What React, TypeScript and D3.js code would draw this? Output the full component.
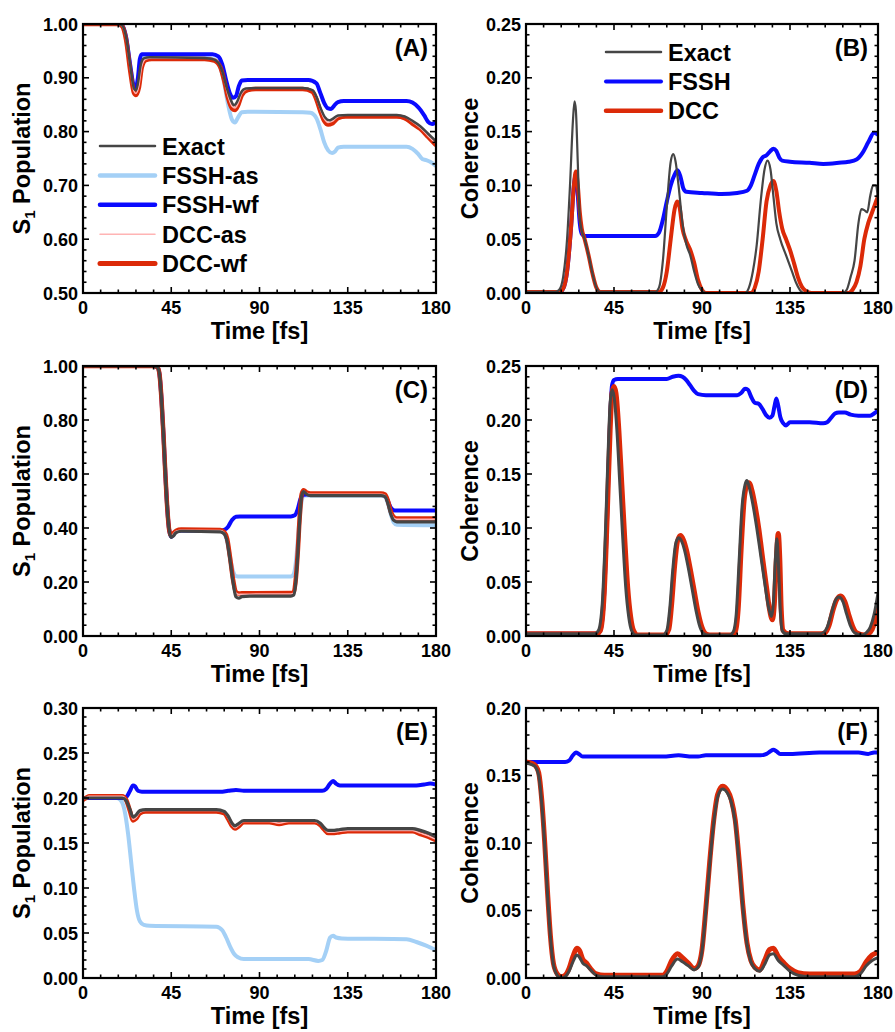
import React from 'react';
import * as d3 from 'd3';

type Pt = [number, number];

// ---- axis ticks ----
const timeTicks = [0, 45, 90, 135, 180];
const popTicksA = [0.5, 0.6, 0.7, 0.8, 0.9, 1.0];
const popTicksC = [0.0, 0.2, 0.4, 0.6, 0.8, 1.0];
const popTicksE = [0.0, 0.05, 0.1, 0.15, 0.2, 0.25, 0.3];
const cohTicksBD = [0.0, 0.05, 0.1, 0.15, 0.2, 0.25];
const cohTicksF = [0.0, 0.05, 0.1, 0.15, 0.2];

// ---- legends ----
const legendPop = ['Exact', 'FSSH-as', 'FSSH-wf', 'DCC-as', 'DCC-wf'];
const legendCoh = ['Exact', 'FSSH', 'DCC'];

// ---- panel A : S1 population ----
const exactA: Pt[] = [[0,1],[18,1],[20,0.997],[22,0.975],[24,0.925],[26,0.88],[27,0.877],[28,0.89],[29.5,0.925],[31,0.936],[34,0.938],[60,0.937],[66,0.935],[69,0.928],[71,0.912],[73,0.885],[75.5,0.858],[77,0.849],[78.5,0.855],[80.5,0.872],[83,0.88],[90,0.881],[112,0.881],[117,0.877],[119,0.865],[121,0.845],[123.5,0.826],[125.5,0.821],[127,0.823],[130,0.83],[135,0.831],[160,0.831],[164,0.828],[168,0.82],[172,0.81],[176,0.796],[180,0.782]];
const fsshAsA: Pt[] = [[0,1],[18,1],[20,0.997],[22,0.975],[24,0.925],[26,0.882],[27,0.879],[28,0.892],[29.5,0.926],[31,0.937],[34,0.938],[62,0.937],[67,0.934],[70,0.92],[72,0.89],[74,0.85],[76,0.822],[77.5,0.817],[79,0.826],[81,0.836],[84,0.837],[112,0.836],[116,0.835],[119,0.825],[121,0.805],[123,0.78],[125,0.765],[127,0.76],[128.5,0.763],[130,0.77],[133,0.772],[165,0.772],[168,0.768],[171,0.758],[173,0.749],[175,0.747],[177,0.744],[180,0.736]];
const fsshWfA: Pt[] = [[0,1],[18,1],[20,0.997],[22,0.975],[24,0.925],[26,0.885],[27,0.883],[28,0.9],[29,0.935],[30,0.944],[32,0.944],[66,0.944],[69,0.94],[71,0.925],[73,0.895],[75,0.87],[76.5,0.863],[78,0.866],[79.5,0.885],[81,0.895],[84,0.896],[115,0.896],[119,0.89],[121,0.872],[123,0.853],[125,0.843],[126.5,0.842],[128,0.848],[130,0.855],[133,0.857],[165,0.857],[168,0.854],[171,0.845],[174,0.83],[176,0.818],[178,0.814],[180,0.818]];
const dccAsA: Pt[] = [[0,1],[18,1],[20,0.996],[22,0.972],[24,0.92],[26,0.875],[27,0.871],[28.5,0.885],[30,0.922],[32,0.935],[35,0.937],[62,0.937],[67,0.934],[70,0.922],[72,0.897],[74,0.866],[76,0.847],[77.5,0.844],[79,0.852],[81,0.871],[84,0.88],[88,0.882],[112,0.882],[117,0.877],[119,0.863],[121,0.842],[123,0.824],[125,0.817],[127,0.819],[130,0.828],[134,0.831],[160,0.831],[164,0.828],[168,0.818],[172,0.807],[176,0.792],[180,0.778]];
const dccWfA: Pt[] = [[0,1],[18,1],[20,0.996],[22,0.97],[24,0.915],[26,0.872],[27,0.868],[28.5,0.882],[30,0.92],[32,0.933],[35,0.935],[62,0.935],[67,0.932],[70,0.92],[72,0.895],[74,0.862],[76,0.843],[77.5,0.84],[79,0.848],[81,0.868],[84,0.877],[88,0.879],[112,0.879],[117,0.874],[119,0.86],[121,0.838],[123,0.82],[125,0.813],[127,0.815],[130,0.825],[134,0.828],[160,0.828],[164,0.825],[168,0.815],[172,0.805],[176,0.79],[180,0.775]];

// ---- panel B : coherence ----
const exactB: Pt[] = [[0,0.001],[15,0.001],[17,0.003],[19,0.015],[21,0.05],[22.5,0.1],[24,0.16],[24.8,0.178],[25.5,0.17],[26.5,0.12],[27.5,0.07],[28.5,0.058],[30,0.05],[32,0.035],[34,0.018],[36,0.005],[38,0.001],[66,0.001],[68,0.005],[70,0.03],[72,0.08],[74,0.122],[75.3,0.129],[76.5,0.122],[78,0.1],[80,0.065],[82,0.045],[84,0.035],[86,0.02],[88,0.008],[90,0.002],[92,0],[112,0],[114,0.005],[116,0.02],[118,0.045],[120,0.085],[122,0.115],[123.5,0.123],[125,0.115],[126.5,0.09],[128,0.065],[130,0.05],[133,0.035],[136,0.02],[138,0.01],[140,0.003],[142,0],[162,0],[164,0.003],[166,0.015],[168,0.03],[170,0.065],[171.5,0.078],[173,0.077],[174.5,0.075],[176,0.09],[177.5,0.1],[179,0.1],[180,0.085]];
const fsshB: Pt[] = [[0,0.001],[17,0.001],[19,0.004],[21,0.02],[23,0.06],[24.5,0.1],[25.5,0.11],[26.5,0.09],[27.5,0.065],[28.5,0.055],[30,0.053],[66,0.053],[68,0.056],[70,0.068],[72,0.085],[74,0.1],[76,0.11],[77.5,0.114],[79,0.108],[80.5,0.097],[82,0.094],[90,0.093],[100,0.092],[108,0.093],[113,0.095],[115,0.1],[117,0.11],[119,0.12],[121,0.126],[123,0.128],[125,0.132],[126.5,0.134],[128,0.132],[129.5,0.126],[131,0.123],[135,0.122],[145,0.121],[152,0.12],[160,0.121],[165,0.122],[169,0.124],[172,0.13],[175,0.14],[178,0.149],[180,0.147]];
const dccB: Pt[] = [[0,0.001],[17,0.001],[19,0.004],[21,0.02],[23,0.06],[24.5,0.1],[25.5,0.113],[26.5,0.1],[27.5,0.075],[28.5,0.06],[30,0.05],[32,0.035],[34,0.018],[36,0.005],[38,0.001],[68,0.001],[70,0.005],[72,0.02],[74,0.05],[76,0.078],[77.3,0.085],[78.5,0.08],[80,0.06],[82,0.048],[84,0.04],[86,0.028],[88,0.012],[90,0.003],[92,0],[115,0],[117,0.005],[119,0.02],[121,0.05],[123,0.085],[125,0.1],[126.5,0.104],[128,0.095],[129.5,0.075],[131,0.06],[133,0.05],[135,0.04],[137,0.028],[139,0.015],[141,0.006],[143,0.002],[146,0],[165,0],[167,0.003],[169,0.01],[171,0.025],[173,0.05],[175,0.065],[177,0.075],[179,0.085],[180,0.09]];

// ---- panel C : S1 population ----
const exactC: Pt[] = [[0,1],[36,1],[38,0.995],[39,0.97],[40,0.88],[41,0.75],[42,0.6],[43,0.47],[44,0.39],[45,0.365],[46,0.37],[47.5,0.383],[50,0.388],[70,0.386],[72,0.378],[73.5,0.35],[75,0.28],[76.5,0.2],[78,0.145],[79.5,0.14],[81,0.146],[85,0.148],[106,0.148],[107.5,0.152],[108.5,0.2],[109.5,0.3],[110.5,0.43],[111.5,0.52],[112.5,0.535],[114,0.525],[116,0.52],[152,0.52],[154,0.516],[155.5,0.49],[157,0.45],[158.5,0.428],[160,0.423],[180,0.423]];
const fsshAsC: Pt[] = [[0,1],[36,1],[38,0.995],[39,0.97],[40,0.88],[41,0.75],[42,0.6],[43,0.47],[44,0.39],[45,0.368],[46,0.375],[47.5,0.387],[50,0.391],[70,0.39],[72,0.38],[73.5,0.35],[75,0.29],[76.5,0.24],[78,0.222],[80,0.22],[106,0.22],[107.5,0.23],[108.5,0.27],[109.5,0.35],[110.5,0.44],[111.5,0.5],[112.5,0.52],[114,0.52],[152,0.52],[154,0.515],[155.5,0.49],[157,0.45],[158.5,0.42],[160,0.412],[180,0.41]];
const fsshWfC: Pt[] = [[0,1],[36,1],[38,0.995],[39,0.97],[40,0.88],[41,0.75],[42,0.6],[43,0.47],[44,0.39],[45,0.368],[46,0.375],[47.5,0.387],[50,0.391],[70,0.39],[72,0.393],[74,0.405],[76,0.43],[78,0.442],[80,0.443],[106,0.443],[108,0.447],[109.5,0.47],[111,0.51],[112.5,0.523],[114,0.524],[152,0.524],[154,0.52],[155.5,0.5],[157,0.475],[159,0.465],[180,0.465]];
const dccAsC: Pt[] = [[0,1],[36,1],[38,0.995],[39,0.97],[40,0.88],[41,0.75],[42,0.6],[43,0.47],[44,0.39],[45,0.368],[46,0.378],[47.5,0.388],[50,0.392],[70,0.391],[72,0.383],[73.5,0.357],[75,0.287],[76.5,0.207],[78,0.159],[79.5,0.154],[81,0.155],[85,0.155],[106,0.156],[107.5,0.16],[108.5,0.207],[109.5,0.307],[110.5,0.437],[111.5,0.522],[112.5,0.537],[114,0.529],[116,0.525],[152,0.525],[154,0.521],[155.5,0.497],[157,0.457],[158.5,0.437],[160,0.432],[180,0.432]];
const dccWfC: Pt[] = [[0,1],[36,1],[38,0.995],[39,0.97],[40,0.88],[41,0.75],[42,0.6],[43,0.47],[44,0.39],[45,0.37],[46,0.38],[47.5,0.39],[50,0.394],[70,0.393],[72,0.385],[73.5,0.36],[75,0.29],[76.5,0.21],[78,0.162],[79.5,0.157],[81,0.158],[85,0.158],[106,0.159],[107.5,0.163],[108.5,0.21],[109.5,0.31],[110.5,0.44],[111.5,0.525],[112.5,0.54],[114,0.532],[116,0.528],[152,0.528],[154,0.524],[155.5,0.5],[157,0.46],[158.5,0.44],[160,0.435],[180,0.435]];

// ---- panel D : coherence ----
const exactD: Pt[] = [[0,0.002],[35,0.002],[37,0.005],[39,0.03],[40.5,0.09],[42,0.17],[43,0.215],[44,0.228],[45,0.222],[46.5,0.19],[48,0.14],[49.5,0.09],[51,0.045],[52.5,0.018],[54,0.005],[56,0.001],[70,0.001],[72,0.005],[73.5,0.025],[75,0.06],[76.5,0.085],[78,0.091],[79.5,0.088],[81,0.08],[83,0.063],[85,0.043],[87,0.023],[89,0.008],[91,0.002],[93,0.001],[104,0.001],[106,0.004],[107.5,0.02],[109,0.07],[110.5,0.12],[112,0.14],[113,0.144],[114.5,0.135],[116,0.122],[118,0.1],[120,0.075],[122,0.05],[124,0.027],[125.5,0.018],[126.5,0.03],[127.5,0.07],[128.3,0.09],[129,0.07],[130,0.025],[131,0.005],[133,0.002],[150,0.002],[152,0.003],[154,0.008],[156,0.02],[158,0.032],[160,0.036],[162,0.032],[164,0.02],[166,0.009],[168,0.003],[172,0.001],[174,0.003],[176,0.008],[178,0.02],[180,0.04]];
const fsshD: Pt[] = [[0,0.002],[36,0.002],[38,0.005],[40,0.04],[41.5,0.11],[43,0.2],[44,0.232],[45,0.237],[47,0.238],[72,0.238],[75,0.24],[78,0.241],[80,0.24],[82,0.237],[84,0.232],[86,0.227],[88,0.224],[92,0.223],[108,0.223],[110,0.225],[112,0.229],[113.5,0.228],[115,0.222],[117,0.216],[119,0.215],[121,0.21],[123,0.204],[124.5,0.202],[126,0.204],[127,0.212],[128,0.22],[129,0.213],[130,0.203],[131.5,0.197],[133,0.195],[135,0.198],[145,0.198],[152,0.197],[154,0.198],[156,0.202],[158,0.206],[160,0.207],[163,0.207],[166,0.205],[170,0.204],[176,0.204],[178,0.206],[180,0.209]];
const dccD: Pt[] = [[0,0.002],[36,0.002],[38,0.005],[40,0.04],[41.5,0.11],[43,0.19],[44,0.225],[45,0.231],[46,0.225],[47.5,0.19],[49,0.14],[50.5,0.09],[52,0.045],[53.5,0.018],[55,0.005],[57,0.001],[71,0.001],[73,0.006],[74.5,0.03],[76,0.065],[77.5,0.088],[79,0.093],[80.5,0.089],[82,0.08],[84,0.062],[86,0.042],[88,0.022],[90,0.008],[92,0.002],[94,0.001],[105,0.001],[107,0.004],[108.5,0.025],[110,0.08],[111.5,0.125],[113,0.14],[114,0.142],[115.5,0.135],[117,0.122],[119,0.1],[121,0.072],[123,0.045],[124.5,0.025],[126,0.015],[127,0.03],[128,0.07],[129,0.095],[129.8,0.07],[130.5,0.025],[131.5,0.005],[134,0.002],[151,0.002],[153,0.003],[155,0.01],[157,0.024],[159,0.034],[161,0.037],[163,0.032],[165,0.02],[167,0.009],[169,0.003],[173,0.001],[175,0.002],[177,0.006],[179,0.018],[180,0.03]];

// ---- panel E : S1 population ----
const exactE: Pt[] = [[0,0.2],[20,0.2],[22,0.197],[24,0.187],[25.5,0.179],[27,0.181],[29,0.186],[32,0.187],[68,0.187],[72,0.185],[74,0.18],[76,0.172],[77.5,0.169],[79,0.171],[82,0.175],[90,0.175],[118,0.175],[121,0.172],[123,0.167],[125,0.164],[127,0.164],[131,0.165],[135,0.166],[168,0.166],[172,0.164],[176,0.161],[180,0.157]];
const fsshAsE: Pt[] = [[0,0.2],[17,0.2],[19,0.198],[21,0.188],[23,0.16],[24.5,0.13],[26,0.1],[27.5,0.075],[29,0.063],[31,0.059],[34,0.058],[68,0.057],[71,0.053],[73,0.045],[75,0.035],[77,0.027],[79,0.023],[82,0.021],[115,0.021],[120,0.019],[122,0.02],[124,0.03],[126,0.045],[127.5,0.047],[129,0.045],[132,0.044],[165,0.043],[170,0.04],[175,0.036],[180,0.031]];
const fsshWfE: Pt[] = [[0,0.2],[20,0.2],[22,0.201],[24,0.208],[25.5,0.214],[26.5,0.213],[28,0.208],[30,0.207],[70,0.207],[74,0.208],[78,0.209],[82,0.208],[122,0.208],[124,0.21],[126,0.216],[127.5,0.219],[129,0.216],[131,0.214],[170,0.214],[174,0.215],[177,0.216],[180,0.215]];
const dccAsE: Pt[] = [[0,0.199],[1.5,0.2],[3,0.202],[20,0.202],[22,0.198],[24,0.186],[25.5,0.176],[27,0.178],[29,0.184],[32,0.186],[68,0.186],[72,0.184],[74,0.178],[76,0.17],[77.5,0.167],[79,0.169],[82,0.174],[95,0.174],[100,0.172],[105,0.174],[118,0.174],[121,0.171],[123,0.166],[125,0.162],[127,0.162],[131,0.163],[135,0.164],[168,0.164],[172,0.161],[176,0.158],[180,0.154]];
const dccWfE: Pt[] = [[0,0.198],[1.5,0.2],[3,0.202],[20,0.202],[22,0.198],[24,0.185],[25.5,0.175],[27,0.177],[29,0.183],[32,0.185],[68,0.185],[72,0.183],[74,0.177],[76,0.169],[77.5,0.166],[79,0.168],[82,0.173],[95,0.173],[100,0.171],[105,0.173],[118,0.173],[121,0.17],[123,0.165],[125,0.161],[127,0.161],[131,0.162],[135,0.163],[168,0.163],[172,0.16],[176,0.157],[180,0.153]];

// ---- panel F : coherence ----
const exactF: Pt[] = [[0,0.159],[3,0.158],[5,0.156],[6.5,0.15],[8,0.13],[9.5,0.1],[11,0.062],[12.5,0.03],[14,0.01],[16,0.002],[18,0],[20,0.001],[22,0.005],[24,0.012],[26,0.017],[27.5,0.015],[29,0.011],[31,0.009],[33,0.006],[36,0.002],[40,0.001],[70,0.001],[72,0.003],[74.5,0.009],[77.5,0.014],[80,0.012],[83,0.009],[86,0.006],[88,0.008],[90,0.02],[92,0.05],[94,0.085],[96,0.115],[98,0.134],[100.5,0.14],[103,0.137],[105,0.13],[107,0.115],[109,0.085],[111,0.05],[113,0.025],[115,0.012],[117,0.007],[119.5,0.005],[122,0.01],[124.5,0.017],[126.5,0.018],[129,0.013],[132,0.009],[135,0.005],[139,0.002],[145,0.001],[168,0.001],[171,0.003],[174,0.009],[177,0.013],[180,0.015]];
const fsshF: Pt[] = [[0,0.16],[20,0.16],[22,0.161],[24,0.165],[25.5,0.167],[27,0.166],[29,0.164],[50,0.164],[70,0.164],[78,0.165],[85,0.164],[88,0.164],[92,0.165],[120,0.165],[123,0.166],[125,0.168],[126.5,0.169],[128,0.168],[130,0.166],[135,0.166],[150,0.167],[170,0.167],[175,0.166],[178,0.167],[180,0.167]];
const dccF: Pt[] = [[0,0.16],[3,0.159],[5,0.157],[6.5,0.152],[8,0.133],[9.5,0.102],[11,0.064],[12.5,0.031],[14,0.011],[16,0.003],[18,0.001],[20,0.002],[22,0.007],[24,0.016],[26,0.022],[27.5,0.02],[29,0.014],[31,0.011],[33,0.007],[36,0.003],[40,0.002],[70,0.002],[72,0.005],[74.5,0.013],[77.5,0.018],[80,0.015],[83,0.011],[86,0.007],[88,0.009],[90,0.021],[92,0.052],[94,0.087],[96,0.117],[98,0.136],[100.5,0.142],[103,0.139],[105,0.132],[107,0.117],[109,0.087],[111,0.052],[113,0.026],[115,0.013],[117,0.008],[119.5,0.006],[122,0.013],[124.5,0.021],[126.5,0.022],[129,0.016],[132,0.011],[135,0.007],[139,0.004],[145,0.003],[168,0.003],[171,0.005],[174,0.012],[177,0.017],[180,0.019]];

const C = {
  exact: '#454545',
  fsshAs: '#a4d0f6',
  fsshWf: '#0a0aff',
  dccAs: '#ffb4b4',
  dccWf: '#dc2a08',
};

const FONT = '"Liberation Sans", Arial, Helvetica, sans-serif';

type Series = { data: Pt[]; color: string; width: number };
type LegendItem = { name: string; color: string; width: number };

type PanelProps = {
  id: string;
  x0: number; x1: number; y0: number; y1: number;
  yDomain: [number, number];
  yTicks: number[];
  yTitle: 'pop' | 'coh';
  titleOff: number;
  label: string;
  labelOff: number;
  series: Series[];
  legend?: { x: number; y: number; items: LegendItem[] };
};

function Panel(p: PanelProps) {
  const x = d3.scaleLinear().domain([0, 180]).range([p.x0, p.x1]);
  const y = d3.scaleLinear().domain(p.yDomain).range([p.y1, p.y0]);
  const line = d3.line<Pt>().x(d => x(d[0])).y(d => y(d[1])).curve(d3.curveMonotoneX);
  const fmt = d3.format('.2f');
  const xMinor = d3.range(0, 180.01, 9).filter(v => !timeTicks.includes(v));
  const ys = p.yTicks[1] - p.yTicks[0];
  const yMinor = d3.range(p.yDomain[0], p.yDomain[1] + 1e-9, ys / 5)
    .filter(v => !p.yTicks.some(t => Math.abs(t - v) < 1e-9));
  const maj = 6, mnr = 3.5;
  const cx = (p.x0 + p.x1) / 2, cy = (p.y0 + p.y1) / 2;
  const clipId = 'clip' + p.id;

  return (
    <g>
      <defs>
        <clipPath id={clipId}>
          <rect x={p.x0} y={p.y0} width={p.x1 - p.x0} height={p.y1 - p.y0} />
        </clipPath>
      </defs>
      <g clipPath={`url(#${clipId})`}>
        {p.series.map((s, i) => (
          <path key={i} d={line(s.data) || ''} fill="none" stroke={s.color}
            strokeWidth={s.width} strokeLinejoin="round" strokeLinecap="round" />
        ))}
      </g>
      {/* ticks */}
      <g stroke="#000" strokeWidth={1.6}>
        {timeTicks.map(t => (
          <g key={'xt' + t}>
            <line x1={x(t)} x2={x(t)} y1={p.y1} y2={p.y1 - maj} />
            <line x1={x(t)} x2={x(t)} y1={p.y0} y2={p.y0 + maj} />
          </g>
        ))}
        {xMinor.map(t => (
          <g key={'xm' + t}>
            <line x1={x(t)} x2={x(t)} y1={p.y1} y2={p.y1 - mnr} />
            <line x1={x(t)} x2={x(t)} y1={p.y0} y2={p.y0 + mnr} />
          </g>
        ))}
        {p.yTicks.map(t => (
          <g key={'yt' + t}>
            <line x1={p.x0} x2={p.x0 + maj} y1={y(t)} y2={y(t)} />
            <line x1={p.x1} x2={p.x1 - maj} y1={y(t)} y2={y(t)} />
          </g>
        ))}
        {yMinor.map((t, i) => (
          <g key={'ym' + i}>
            <line x1={p.x0} x2={p.x0 + mnr} y1={y(t)} y2={y(t)} />
            <line x1={p.x1} x2={p.x1 - mnr} y1={y(t)} y2={y(t)} />
          </g>
        ))}
      </g>
      <rect x={p.x0} y={p.y0} width={p.x1 - p.x0} height={p.y1 - p.y0}
        fill="none" stroke="#000" strokeWidth={2.2} />
      {/* tick labels */}
      <g fontFamily={FONT} fontWeight="bold" fontSize={18} fill="#000">
        {timeTicks.map(t => (
          <text key={'xl' + t} x={x(t)} y={p.y1 + 21} textAnchor="middle">{t}</text>
        ))}
        {p.yTicks.map(t => (
          <text key={'yl' + t} x={p.x0 - 5} y={y(t) + 6.5} textAnchor="end">{fmt(t)}</text>
        ))}
      </g>
      {/* titles */}
      <g fontFamily={FONT} fontWeight="bold" fontSize={23.5} fill="#000">
        <text x={cx} y={p.y1 + 46} textAnchor="middle">Time [fs]</text>
        <text transform={`translate(${p.x0 - p.titleOff},${cy}) rotate(-90)`} textAnchor="middle">
          {p.yTitle === 'pop' ? (
            <>
              <tspan>S</tspan>
              <tspan fontSize={15} dy={5}>1</tspan>
              <tspan dy={-5}> Population</tspan>
            </>
          ) : 'Coherence'}
        </text>
        <text x={p.x1 - p.labelOff} y={p.y0 + 32} textAnchor="end" fontSize={24}>{p.label}</text>
      </g>
      {p.legend && (
        <g fontFamily={FONT} fontWeight="bold" fontSize={23.5}>
          {p.legend.items.map((it, i) => {
            const ly = p.legend!.y + i * 29.4;
            return (
              <g key={it.name}>
                <line x1={p.legend!.x} x2={p.legend!.x + 55} y1={ly} y2={ly}
                  stroke={it.color} strokeWidth={it.width} strokeLinecap="round" />
                <text x={p.legend!.x + 62} y={ly + 8.5} fill="#000">{it.name}</text>
              </g>
            );
          })}
        </g>
      )}
    </g>
  );
}

const popSeries = (ex: Pt[], fa: Pt[], fw: Pt[], da: Pt[], dw: Pt[], ew: number): Series[] => [
  { data: fa, color: C.fsshAs, width: 4 },
  { data: fw, color: C.fsshWf, width: 4 },
  { data: dw, color: C.dccWf, width: 4.5 },
  { data: da, color: C.dccAs, width: 1.5 },
  { data: ex, color: C.exact, width: ew },
];
const cohSeries = (ex: Pt[], f: Pt[], d: Pt[], ew: number, dw: number): Series[] => [
  { data: f, color: C.fsshWf, width: 4 },
  { data: d, color: C.dccWf, width: dw },
  { data: ex, color: C.exact, width: ew },
];

export default function App() {
  const L = { x0: 83, x1: 436 };
  const R = { x0: 526, x1: 878 };
  const rows = [[24, 293], [366, 636], [708, 978]];
  const popLegend: LegendItem[] = [
    { name: legendPop[0], color: C.exact, width: 2.5 },
    { name: legendPop[1], color: C.fsshAs, width: 4.5 },
    { name: legendPop[2], color: C.fsshWf, width: 4.5 },
    { name: legendPop[3], color: C.dccAs, width: 1.5 },
    { name: legendPop[4], color: C.dccWf, width: 5 },
  ];
  const cohLegend: LegendItem[] = [
    { name: legendCoh[0], color: C.exact, width: 2.5 },
    { name: legendCoh[1], color: C.fsshWf, width: 4 },
    { name: legendCoh[2], color: C.dccWf, width: 4.5 },
  ];
  return (
    <svg width={895} height={1032} style={{ position: 'absolute', left: 0, top: 0, background: '#fff' }}>
      <Panel id="A" {...L} y0={rows[0][0]} y1={rows[0][1]} yDomain={[0.5, 1.0]} yTicks={popTicksA}
        yTitle="pop" titleOff={53} label="(A)" labelOff={8}
        series={popSeries(exactA, fsshAsA, fsshWfA, dccAsA, dccWfA, 2.5)}
        legend={{ x: 100, y: 146, items: popLegend }} />
      <Panel id="B" {...R} y0={rows[0][0]} y1={rows[0][1]} yDomain={[0, 0.25]} yTicks={cohTicksBD}
        yTitle="coh" titleOff={48} label="(B)" labelOff={10}
        series={cohSeries(exactB, fsshB, dccB, 2.2, 4)}
        legend={{ x: 606, y: 52, items: cohLegend }} />
      <Panel id="C" {...L} y0={rows[1][0]} y1={rows[1][1]} yDomain={[0, 1.0]} yTicks={popTicksC}
        yTitle="pop" titleOff={53} label="(C)" labelOff={8}
        series={popSeries(exactC, fsshAsC, fsshWfC, dccAsC, dccWfC, 3.2)} />
      <Panel id="D" {...R} y0={rows[1][0]} y1={rows[1][1]} yDomain={[0, 0.25]} yTicks={cohTicksBD}
        yTitle="coh" titleOff={48} label="(D)" labelOff={10}
        series={cohSeries(exactD, fsshD, dccD, 3, 5)} />
      <Panel id="E" {...L} y0={rows[2][0]} y1={rows[2][1]} yDomain={[0, 0.3]} yTicks={popTicksE}
        yTitle="pop" titleOff={53} label="(E)" labelOff={8}
        series={popSeries(exactE, fsshAsE, fsshWfE, dccAsE, dccWfE, 3.2)} />
      <Panel id="F" {...R} y0={rows[2][0]} y1={rows[2][1]} yDomain={[0, 0.2]} yTicks={cohTicksF}
        yTitle="coh" titleOff={48} label="(F)" labelOff={10}
        series={cohSeries(exactF, fsshF, dccF, 3, 5)} />
    </svg>
  );
}
